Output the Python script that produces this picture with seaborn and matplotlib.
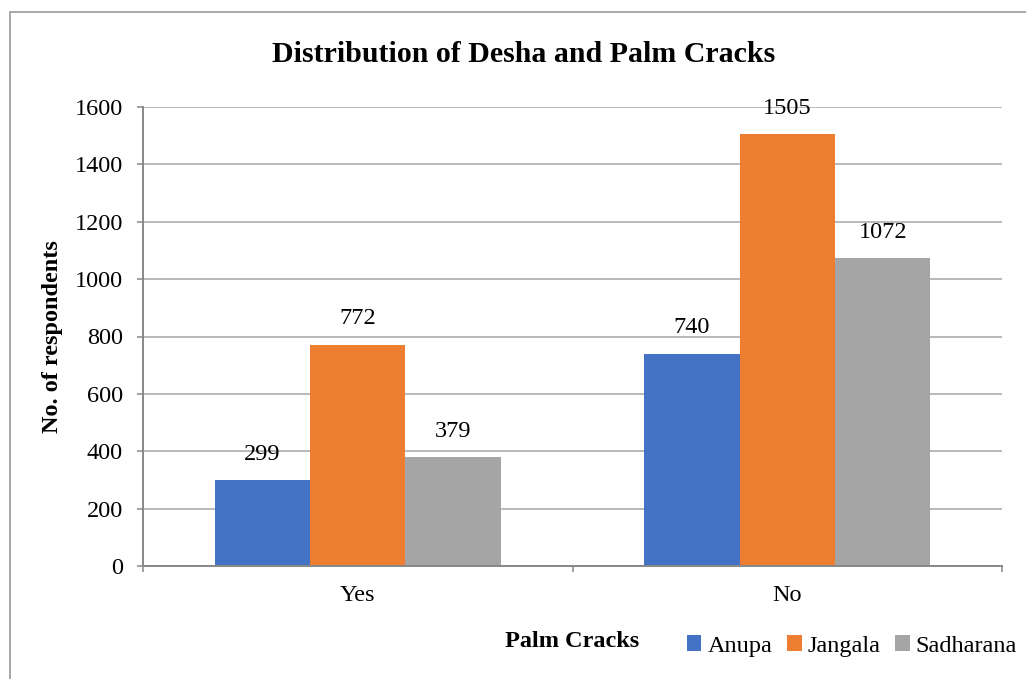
import pandas as pd
import matplotlib.pyplot as plt
import seaborn as sns
from matplotlib.patches import Rectangle

# Chart data
palm_cracks = ["Yes", "No"]
desha = ["Anupa", "Jangala", "Sadharana"]
anupa = [299, 740]
jangala = [772, 1505]
sadharana = [379, 1072]
colors = ["#4472C4", "#ED7D31", "#A5A5A5"]

rows = []
for name, vals in zip(desha, [anupa, jangala, sadharana]):
    for cat, v in zip(palm_cracks, vals):
        rows.append({"Palm Cracks": cat, "Desha": name, "Count": v})
df = pd.DataFrame(rows)

sns.set_theme(style="white")
plt.rcParams["font.family"] = ["Liberation Serif", "DejaVu Serif"]
plt.rcParams["text.color"] = "black"

fig = plt.figure(figsize=(10.26, 6.79), dpi=100)
ax = fig.add_axes([143 / 1026, 1 - 566 / 679, (1002 - 143) / 1026, (566 - 107) / 679])

sns.barplot(data=df, x="Palm Cracks", y="Count", hue="Desha", order=palm_cracks,
            hue_order=desha, palette=colors, saturation=1, width=0.667,
            linewidth=0, ax=ax)

for c in ax.containers:
    ax.bar_label(c, padding=11, fontsize=17.5, color="black")

ax.set_ylim(0, 1600)
ax.set_xlim(-0.5, 1.5)
ax.set_yticks(range(0, 1601, 200))
ax.yaxis.grid(True, color="#A6A6A6", linewidth=1.1)
ax.set_axisbelow(True)
ax.tick_params(axis="y", left=True, length=4.5, color="#888888", width=1.1,
               pad=10, labelsize=17.5, labelcolor="black")
ax.set_xticks([-0.5, 0.5, 1.5], minor=True)
ax.tick_params(axis="x", which="minor", bottom=True, length=4.5, color="#888888", width=1.1)
ax.tick_params(axis="x", which="major", bottom=False, length=0, pad=14,
               labelsize=17.5, labelcolor="black")
for s in ["top", "right"]:
    ax.spines[s].set_visible(False)
for s in ["left", "bottom"]:
    ax.spines[s].set_color("#888888")
    ax.spines[s].set_linewidth(1.4)

ax.set_xlabel("Palm Cracks", fontsize=17.5, fontweight="bold", labelpad=18, color="black")
ax.set_ylabel("No. of respondents", fontsize=17.5, fontweight="bold", labelpad=8, color="black")

fig.text(524 / 1026, 1 - 54 / 679, "Distribution of Desha and Palm Cracks",
         ha="center", va="center", fontsize=21.5, fontweight="bold")

ax.legend(loc="center", bbox_to_anchor=(852 / 1026, 1 - 646 / 679),
          bbox_transform=fig.transFigure, ncol=3, frameon=False, fontsize=17.5,
          handlelength=0.6, handleheight=0.6, handletextpad=0.25,
          columnspacing=0.6, borderpad=0)

fig.patches.append(Rectangle((10 / 1026, -0.1), 1.2, 1 - 12 / 679 + 0.1,
                             transform=fig.transFigure, fill=False,
                             edgecolor="#A0A0A0", linewidth=1.3))

fig.savefig("out.png", dpi=100)
